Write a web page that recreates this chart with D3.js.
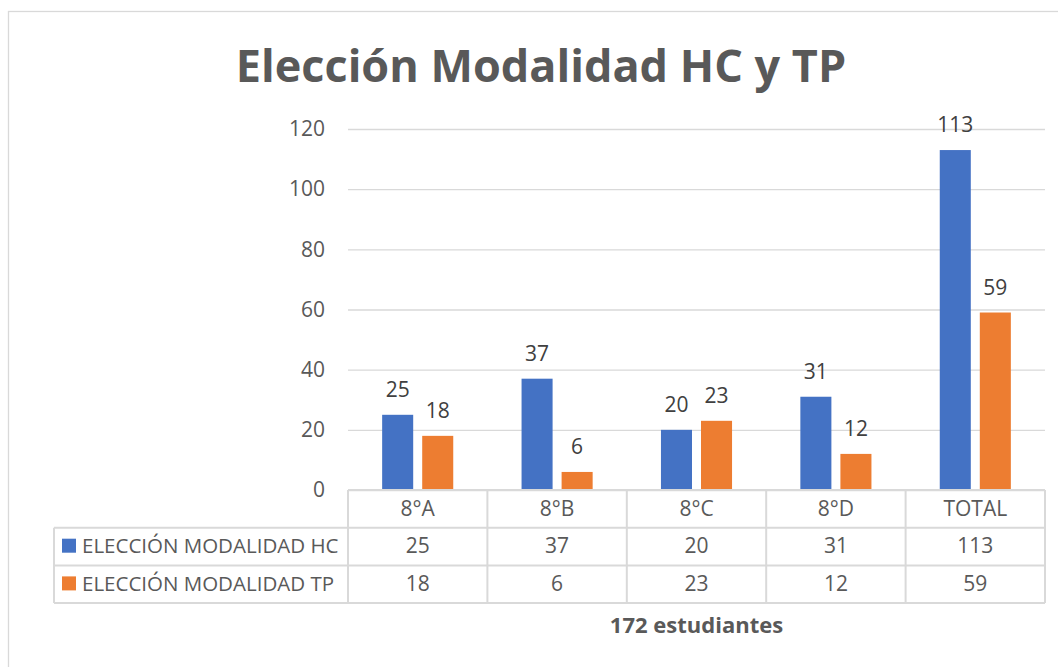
<!DOCTYPE html>
<html>
<head>
<meta charset="utf-8">
<script src="https://cdn.jsdelivr.net/npm/d3@7"></script>
<style>
  html, body { margin: 0; padding: 0; background: #fff; }
  svg { display: block; font-family: "Open Sans", sans-serif; }
</style>
</head>
<body>
<svg id="chart" width="1058" height="667"></svg>
<script>
// chart data
var categories = ["8°A", "8°B", "8°C", "8°D", "TOTAL"];
var seriesNames = ["ELECCIÓN MODALIDAD HC", "ELECCIÓN MODALIDAD TP"];
var hcValues = [25, 37, 20, 31, 113];
var tpValues = [18, 6, 23, 12, 59];
var yTicks = [0, 20, 40, 60, 80, 100, 120];
var colors = ["#4472C4", "#ED7D31"];

var seriesValues = [hcValues, tpValues];

// layout
var plot = {left: 348, right: 1045, top: 129, bottom: 490};
var rowH = 37.7;
var numSize = 21;

var svg = d3.select("#chart");

// outer border of the chart area
svg.append("rect")
  .attr("x", 8.5).attr("y", 11.5)
  .attr("width", 1070).attr("height", 680)
  .attr("fill", "none").attr("stroke", "#d9d9d9").attr("stroke-width", 1.3);

// title
svg.append("text")
  .attr("x", 541).attr("y", 82)
  .attr("text-anchor", "middle")
  .attr("font-size", 45).attr("font-weight", "bold")
  .attr("fill", "#595959")
  .text("Elección Modalidad HC y TP");

var x = d3.scaleBand()
  .domain(categories)
  .range([plot.left, plot.right]);

var bw = x.bandwidth();
var xInner = d3.scaleBand()
  .domain(d3.range(seriesNames.length))
  .range([bw * 0.245, bw * 0.755])
  .paddingInner(0.225);

var y = d3.scaleLinear()
  .domain([0, 120])
  .range([plot.bottom, plot.top]);

// gridlines + y labels
var yAxis = svg.append("g")
  .attr("transform", "translate(" + plot.left + ",0)")
  .call(d3.axisLeft(y).tickValues(yTicks).tickSize(-(plot.right - plot.left)).tickPadding(23));
yAxis.select(".domain").remove();
yAxis.selectAll(".tick line")
  .attr("stroke", "#d9d9d9").attr("stroke-width", 1.3);
yAxis.selectAll(".tick text")
  .attr("font-size", numSize).attr("fill", "#595959")
  .attr("font-family", "Open Sans, sans-serif");

// bars
var groups = svg.selectAll("g.cat")
  .data(categories)
  .enter().append("g")
  .attr("class", "cat")
  .attr("transform", function(d) { return "translate(" + x(d) + ",0)"; });

groups.each(function(cat, ci) {
  var g = d3.select(this);
  seriesValues.forEach(function(vals, si) {
    var v = vals[ci];
    g.append("rect")
      .attr("x", xInner(si))
      .attr("y", y(v))
      .attr("width", xInner.bandwidth())
      .attr("height", y(0) - y(v))
      .attr("fill", colors[si]);
    g.append("text")
      .attr("x", xInner(si) + xInner.bandwidth() / 2)
      .attr("y", y(v) - 18)
      .attr("text-anchor", "middle")
      .attr("font-size", numSize).attr("fill", "#404040")
      .text(v);
  });
});

// data table
var table = svg.append("g");
var lineColor = "#d9d9d9";
var tLeft = 54;
var rowsY = [plot.bottom, plot.bottom + rowH, plot.bottom + rowH * 2, plot.bottom + rowH * 3];

// axis line / header top
table.append("line")
  .attr("x1", plot.left).attr("x2", plot.right)
  .attr("y1", rowsY[0]).attr("y2", rowsY[0])
  .attr("stroke", lineColor).attr("stroke-width", 2);
[1, 2, 3].forEach(function(i) {
  table.append("line")
    .attr("x1", tLeft).attr("x2", plot.right)
    .attr("y1", rowsY[i]).attr("y2", rowsY[i])
    .attr("stroke", lineColor).attr("stroke-width", 2);
});
table.append("line")
  .attr("x1", tLeft).attr("x2", tLeft)
  .attr("y1", rowsY[1]).attr("y2", rowsY[3])
  .attr("stroke", lineColor).attr("stroke-width", 2);
categories.concat(["end"]).forEach(function(c, i) {
  var xx = i < categories.length ? x(c) : plot.right;
  table.append("line")
    .attr("x1", xx).attr("x2", xx)
    .attr("y1", rowsY[0]).attr("y2", rowsY[3])
    .attr("stroke", lineColor).attr("stroke-width", 2);
});

// header row
categories.forEach(function(c) {
  table.append("text")
    .attr("x", x(c) + bw / 2).attr("y", rowsY[0] + 26)
    .attr("text-anchor", "middle")
    .attr("font-size", numSize).attr("fill", "#595959")
    .text(c);
});

// series rows
seriesNames.forEach(function(name, si) {
  var top = rowsY[si + 1];
  table.append("rect")
    .attr("x", 62).attr("y", top + 11)
    .attr("width", 14).attr("height", 14)
    .attr("fill", colors[si]);
  table.append("text")
    .attr("x", 82).attr("y", top + 25.5)
    .attr("font-size", 20.5).attr("fill", "#595959")
    .text(name);
  categories.forEach(function(c, ci) {
    table.append("text")
      .attr("x", x(c) + bw / 2).attr("y", top + 25.5)
      .attr("text-anchor", "middle")
      .attr("font-size", numSize).attr("fill", "#595959")
      .text(seriesValues[si][ci]);
  });
});

// axis title
svg.append("text")
  .attr("x", (plot.left + plot.right) / 2).attr("y", 633)
  .attr("text-anchor", "middle")
  .attr("font-size", 22).attr("font-weight", "bold")
  .attr("fill", "#595959")
  .text("172 estudiantes");
</script>
</body>
</html>
